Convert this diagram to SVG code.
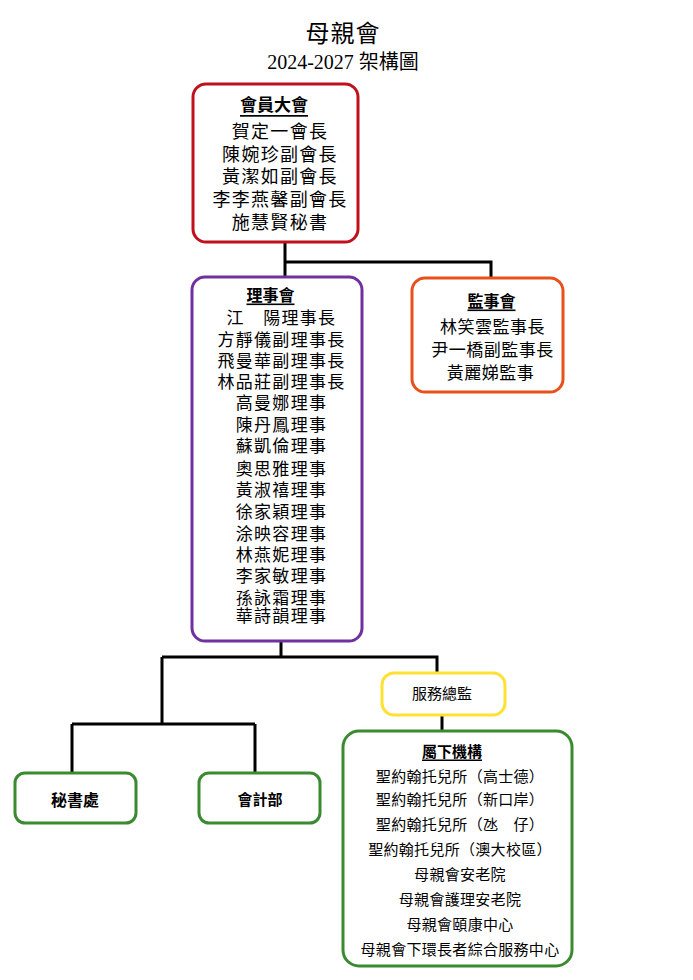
<svg xmlns="http://www.w3.org/2000/svg" width="693" height="980" viewBox="0 0 693 980">
<style>
  text { font-family: "Liberation Serif", "Noto Sans CJK TC", serif; fill: #000; text-anchor: middle; dominant-baseline: central; }
  .box { fill: #fff; stroke-width: 3; }
  .t { font-weight: bold; text-decoration: underline; }
  .conn { fill: none; stroke: #000; stroke-width: 3; }
  .l18 { font-size: 18px; letter-spacing: 1.3px; }
  .l17 { font-size: 17px; letter-spacing: 1.3px; }
  .l15 { font-size: 15px; letter-spacing: 0.3px; }
</style>
<rect width="693" height="980" fill="#fff"/>
<g id="title">
  <text x="343" y="34" style="font-size:24px;letter-spacing:1px">母親會</text>
  <text x="343" y="61.5" style="font-size:20px">2024-2027 架構圖</text>
</g>
<g id="connectors">
  <path class="conn" d="M285,243 V277 M285,262 H491 V278"/>
  <path class="conn" d="M281,641 V657 M162,657 H437 V673 M162,657 V724 M72,724 H255 M72,724 V773 M255,724 V773"/>
  <path class="conn" d="M442,715 V731"/>
</g>
<g id="node-general">
  <rect class="box" x="193" y="84" width="165" height="158" rx="13" stroke="#C0101C"/>
  <text class="t" x="274" y="105.5" style="font-size:17px">會員大會</text>
  <text class="l18" x="280" y="131.5">賀定一會長</text>
  <text class="l18" x="280" y="154.5">陳婉珍副會長</text>
  <text class="l18" x="280" y="177">黃潔如副會長</text>
  <text class="l18" x="280" y="200">李李燕馨副會長</text>
  <text class="l18" x="280" y="222.5">施慧賢秘書</text>
</g>
<g id="node-board">
  <rect class="box" x="192" y="277" width="170" height="364" rx="13" stroke="#7030A0"/>
  <text class="t" x="270.5" y="295" style="font-size:16px">理事會</text>
  <text class="l17" x="281.5" y="318.5">江　陽理事長</text>
  <text class="l17" x="281.5" y="340">方靜儀副理事長</text>
  <text class="l17" x="281.5" y="361.5">飛曼華副理事長</text>
  <text class="l17" x="281.5" y="382.5">林品莊副理事長</text>
  <text class="l17" x="281.5" y="403.5">高曼娜理事</text>
  <text class="l17" x="281.5" y="425.5">陳丹鳳理事</text>
  <text class="l17" x="281.5" y="446.5">蘇凱倫理事</text>
  <text class="l17" x="281.5" y="469">奧思雅理事</text>
  <text class="l17" x="281.5" y="490.5">黃淑禧理事</text>
  <text class="l17" x="281.5" y="512">徐家穎理事</text>
  <text class="l17" x="281.5" y="534">涂映容理事</text>
  <text class="l17" x="281.5" y="555.5">林燕妮理事</text>
  <text class="l17" x="281.5" y="576">李家敏理事</text>
  <text class="l17" x="281.5" y="598">孫詠霜理事</text>
  <text class="l17" x="281.5" y="616">華詩韻理事</text>
</g>
<g id="node-supervisory">
  <rect class="box" x="412" y="278" width="151" height="114" rx="13" stroke="#E8501C"/>
  <text class="t" x="491.5" y="301" style="font-size:16px">監事會</text>
  <text class="l17" x="492.5" y="327.5" style="letter-spacing:0.5px">林笑雲監事長</text>
  <text class="l17" x="492.5" y="350" style="letter-spacing:0.5px">尹一橋副監事長</text>
  <text class="l17" x="490.5" y="373.5" style="letter-spacing:0.5px">黃麗娣監事</text>
</g>
<g id="node-director">
  <rect x="382" y="673" width="123" height="42" rx="12" fill="#fff" stroke="#FFE135" stroke-width="3"/>
  <text x="442" y="694" style="font-size:15px">服務總監</text>
</g>
<g id="node-secretariat">
  <rect class="box" x="15" y="773" width="121" height="50" rx="10" stroke="#3A8A30"/>
  <text x="75" y="800" style="font-size:16px;font-weight:bold">秘書處</text>
</g>
<g id="node-accounting">
  <rect class="box" x="199" y="773" width="121" height="50" rx="10" stroke="#3A8A30"/>
  <text x="260" y="799.5" style="font-size:15px;font-weight:bold">會計部</text>
</g>
<g id="node-units">
  <rect class="box" x="343" y="731" width="229" height="235" rx="16" stroke="#3A8A30"/>
  <text class="t" x="452" y="751.5" style="font-size:15px">屬下機構</text>
  <text class="l15" x="460" y="777">聖約翰托兒所（高士德）</text>
  <text class="l15" x="460" y="799.5">聖約翰托兒所（新口岸）</text>
  <text class="l15" x="460" y="825">聖約翰托兒所（氹　仔）</text>
  <text class="l15" x="460" y="850">聖約翰托兒所（澳大校區）</text>
  <text class="l15" x="460" y="875">母親會安老院</text>
  <text class="l15" x="460" y="900">母親會護理安老院</text>
  <text class="l15" x="460" y="924.5">母親會頤康中心</text>
  <text class="l15" x="460" y="949.5">母親會下環長者綜合服務中心</text>
</g>
</svg>
